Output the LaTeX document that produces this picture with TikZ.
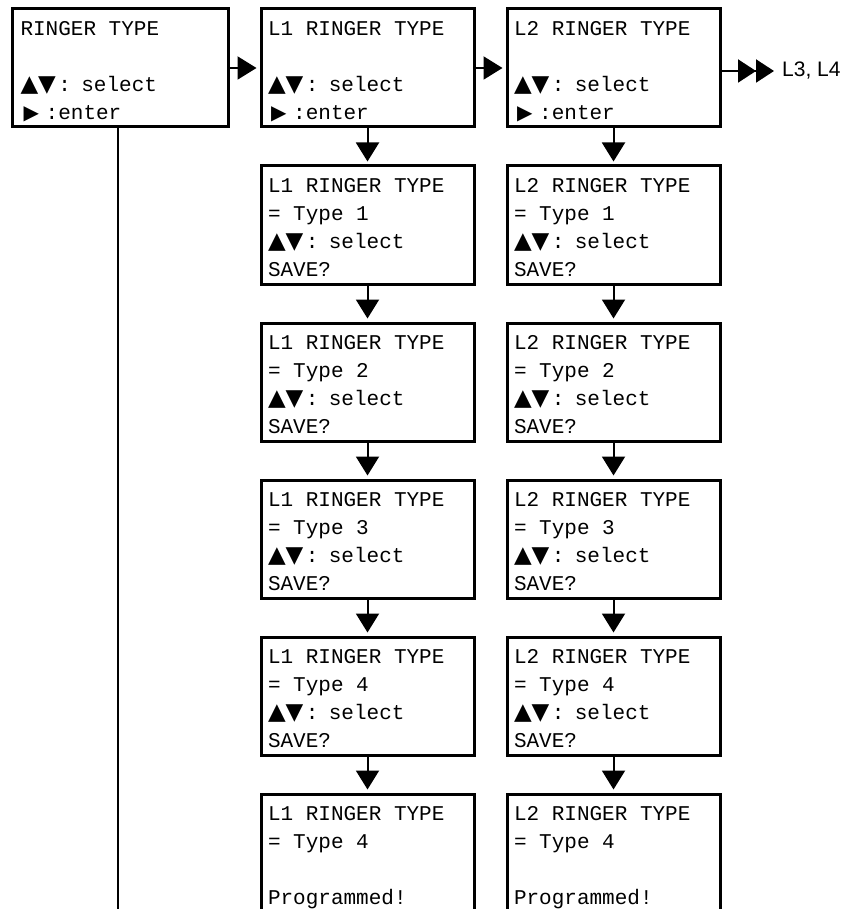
\documentclass[tikz,border=0pt]{standalone}
\usepackage{fontspec}
\setmonofont{Liberation Mono}
\newfontfamily\symfont{DejaVu Sans}
\newfontfamily\labelfont{Liberation Sans}
\usetikzlibrary{arrows.meta}

\newcommand{\updn}{\makebox[37.8pt][l]{\symfont\fontsize{23}{23}\selectfont ▲▼}}
\newcommand{\rtri}{\makebox[25.2pt][l]{\hspace{3pt}\symfont\fontsize{20}{20}\selectfont ▶}}
\newcommand{\lcd}[4]{\spaceskip=12.6pt\relax\rule{0pt}{25pt}#1\\#2\mbox{}\\#3\mbox{}\\#4\rule[-6pt]{0pt}{6pt}}

\begin{document}
\begin{tikzpicture}[x=1pt, y=-1pt,
    screen/.style={draw, line width=3pt, minimum width=213pt, minimum height=118pt,
      inner xsep=7pt, inner ysep=0pt, text width=199pt, align=left,
      font=\ttfamily\fontsize{21}{27.7}\selectfont},
    flow/.style={line width=2pt, -{Triangle[length=19pt, width=23pt]}, shorten >=3pt}]
  \useasboundingbox (0,0) rectangle (852,909);
  \clip (0,0) rectangle (852,909);
  \node[screen, minimum width=216pt] (a0) at (120,68) {\lcd{RINGER TYPE}{}{\updn: select}{\rtri:enter}};
  \node[screen] (b0) at (367.5,68) {\lcd{L1 RINGER TYPE}{}{\updn: select}{\rtri:enter}};
  \node[screen] (c0) at (613.5,68) {\lcd{L2 RINGER TYPE}{}{\updn: select}{\rtri:enter}};
  % one column per line: a screen for each ringer type, then the saved one
  \foreach \col/\x/\lnum in {b/367.5/1, c/613.5/2} {
    \foreach \r in {1,...,4}
      \node[screen] (\col\r) at (\x,68+\r*157) {\lcd{L\lnum\ RINGER TYPE}{= Type \r}{\updn: select}{SAVE?}};
    \node[screen] (\col5) at (\x,68+5*157) {\lcd{L\lnum\ RINGER TYPE}{= Type 4}{}{Programmed!}};
    \foreach \r [remember=\r as \p (initially 0)] in {1,...,5}
      \draw[flow] (\col\p.south) -- (\col\r.north);
  }
  \draw[flow] (a0) -- (b0);
  \draw[flow] (b0) -- (c0);
  \node[font=\labelfont\fontsize{21}{25}\selectfont, inner sep=0pt, anchor=west] (more) at (782,71) {L3, L4};
  \draw[line width=2pt, -{Triangle[length=18pt, width=23pt] Triangle[length=18pt, width=23pt]}, shorten >=8pt]
    (c0.east |- more) -- (more);
  \coordinate (tail) at (118,915);
  \draw[line width=2pt] (a0.south -| tail) -- (tail);
\end{tikzpicture}
\end{document}
